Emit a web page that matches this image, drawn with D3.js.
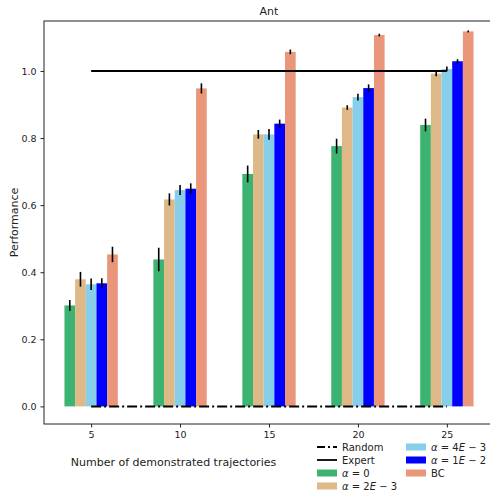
<!DOCTYPE html>
<html>
<head>
<meta charset="utf-8">
<script src="https://cdn.jsdelivr.net/npm/d3@7"></script>
<style>
  body { margin: 0; background: #fff; }
  svg { font-family: "DejaVu Sans", sans-serif; }
</style>
</head>
<body>
<div id="chart"></div>
<script>
// ─── data ───
const trajectories = [5, 10, 15, 20, 25];
const yTicks = [0.0, 0.2, 0.4, 0.6, 0.8, 1.0];

const alpha0     = [0.301, 0.438, 0.693, 0.776, 0.839];
const alpha0Err  = [0.016, 0.035, 0.025, 0.022, 0.019];
const alpha2e3    = [0.379, 0.617, 0.811, 0.891, 0.992];
const alpha2e3Err = [0.022, 0.018, 0.013, 0.007, 0.008];
const alpha4e3    = [0.364, 0.645, 0.811, 0.922, 1.006];
const alpha4e3Err = [0.017, 0.015, 0.016, 0.010, 0.007];
const alpha1e2    = [0.367, 0.649, 0.843, 0.949, 1.029];
const alpha1e2Err = [0.015, 0.016, 0.012, 0.011, 0.006];
const bc     = [0.453, 0.948, 1.057, 1.107, 1.118];
const bcErr  = [0.023, 0.015, 0.007, 0.004, 0.003];

const expertLevel = 1.0;
const randomLevel = 0.0;

const series = [
  { key: 'a0',   values: alpha0,   err: alpha0Err,   color: '#3cb371' },
  { key: 'a2e3', values: alpha2e3, err: alpha2e3Err, color: '#deb887' },
  { key: 'a4e3', values: alpha4e3, err: alpha4e3Err, color: '#87ceeb' },
  { key: 'a1e2', values: alpha1e2, err: alpha1e2Err, color: '#0000ff' },
  { key: 'bc',   values: bc,       err: bcErr,       color: '#e9967a' }
];

// ─── layout ───
const W = 490, H = 490;
const plot = { left: 44, right: 494, top: 21, bottom: 424 };
const barWidth = 0.6; // in x-data units

const x = d3.scaleLinear().domain([2.35, 27.65]).range([plot.left, plot.right]);
const y = d3.scaleLinear().domain([-0.0525, 1.149]).range([plot.bottom, plot.top]);

const svg = d3.select('#chart').append('svg')
  .attr('width', W).attr('height', H);

// 柱
series.forEach((s, si) => {
  const off = (si - (series.length - 1) / 2) * barWidth;
  const g = svg.append('g');
  g.selectAll('rect')
    .data(trajectories)
    .enter().append('rect')
    .attr('x', d => x(d + off - barWidth / 2))
    .attr('width', x(barWidth) - x(0))
    .attr('y', (d, i) => y(s.values[i]))
    .attr('height', (d, i) => y(0) - y(s.values[i]))
    .attr('fill', s.color);
  g.selectAll('line')
    .data(trajectories)
    .enter().append('line')
    .attr('x1', d => x(d + off)).attr('x2', d => x(d + off))
    .attr('y1', (d, i) => y(s.values[i] - s.err[i]))
    .attr('y2', (d, i) => y(s.values[i] + s.err[i]))
    .attr('stroke', '#000').attr('stroke-width', 1.6);
});

// Expert / Random
const xr = d3.extent(trajectories);
svg.append('line')
  .attr('x1', x(xr[0])).attr('x2', x(xr[1]))
  .attr('y1', y(expertLevel)).attr('y2', y(expertLevel))
  .attr('stroke', '#000').attr('stroke-width', 1.8);
svg.append('line')
  .attr('x1', x(xr[0])).attr('x2', x(xr[1]))
  .attr('y1', y(randomLevel)).attr('y2', y(randomLevel))
  .attr('stroke', '#000').attr('stroke-width', 2)
  .attr('stroke-dasharray', '10,3,2,3');

// axes
const xAxis = svg.append('g')
  .attr('transform', `translate(0,${plot.bottom})`)
  .call(d3.axisBottom(x).tickValues(trajectories).tickSize(3.5).tickPadding(4).tickFormat(d3.format('d')));
const yAxis = svg.append('g')
  .attr('transform', `translate(${plot.left},0)`)
  .call(d3.axisLeft(y).tickValues(yTicks).tickSize(3.5).tickPadding(4).tickFormat(d3.format('.1f')));
[xAxis, yAxis].forEach(a => {
  a.select('.domain').remove();
  a.selectAll('text').attr('font-size', 9.5).attr('fill', '#222').attr('font-family', '"DejaVu Sans", sans-serif');
  a.selectAll('.tick line').attr('stroke', '#222').attr('stroke-width', 1);
});

// frame
svg.append('rect')
  .attr('x', plot.left).attr('y', plot.top)
  .attr('width', plot.right - plot.left).attr('height', plot.bottom - plot.top)
  .attr('fill', 'none').attr('stroke', '#222').attr('stroke-width', 1);

// titles
svg.append('text')
  .attr('x', (plot.left + plot.right) / 2).attr('y', 15)
  .attr('text-anchor', 'middle').attr('font-size', 11).attr('fill', '#222')
  .text('Ant');
svg.append('text')
  .attr('x', 173.5).attr('y', 466)
  .attr('text-anchor', 'middle').attr('font-size', 11).attr('fill', '#222')
  .text('Number of demonstrated trajectories');
svg.append('text')
  .attr('transform', `translate(18,${(plot.top + plot.bottom) / 2}) rotate(-90)`)
  .attr('text-anchor', 'middle').attr('font-size', 11).attr('fill', '#222')
  .text('Performance');

// legend
const legendItems = [
  { type: 'dash', label: [['Random', false]] },
  { type: 'solid', label: [['Expert', false]] },
  { type: 'patch', color: series[0].color, label: [['α', true], [' = 0', false]] },
  { type: 'patch', color: series[1].color, label: [['α', true], [' = 2', false], ['E', true], [' − 3', false]] },
  { type: 'patch', color: series[2].color, label: [['α', true], [' = 4', false], ['E', true], [' − 3', false]] },
  { type: 'patch', color: series[3].color, label: [['α', true], [' = 1', false], ['E', true], [' − 2', false]] },
  { type: 'patch', color: series[4].color, label: [['BC', false]] }
];
const legCols = [{ x: 317, n: 4 }, { x: 406, n: 3 }];
const rowY = [447, 460, 473, 486];
const leg = svg.append('g');
legendItems.forEach((it, i) => {
  const col = i < legCols[0].n ? 0 : 1;
  const row = col === 0 ? i : i - legCols[0].n;
  const gx = legCols[col].x, gy = rowY[row];
  const g = leg.append('g').attr('transform', `translate(${gx},${gy})`);
  if (it.type === 'patch') {
    g.append('rect').attr('x', 0).attr('y', -3.5).attr('width', 20).attr('height', 7).attr('fill', it.color);
  } else {
    g.append('line').attr('x1', 0).attr('x2', 20).attr('y1', 0).attr('y2', 0)
      .attr('stroke', '#000').attr('stroke-width', it.type === 'dash' ? 2 : 1.8)
      .attr('stroke-dasharray', it.type === 'dash' ? '8,3,2,3' : null);
  }
  const t = g.append('text').attr('x', 25).attr('y', 3.5)
    .attr('font-size', 10).attr('fill', '#222');
  it.label.forEach(([s, ital]) => {
    t.append('tspan').attr('font-style', ital ? 'italic' : 'normal').text(s);
  });
});
</script>
</body>
</html>
